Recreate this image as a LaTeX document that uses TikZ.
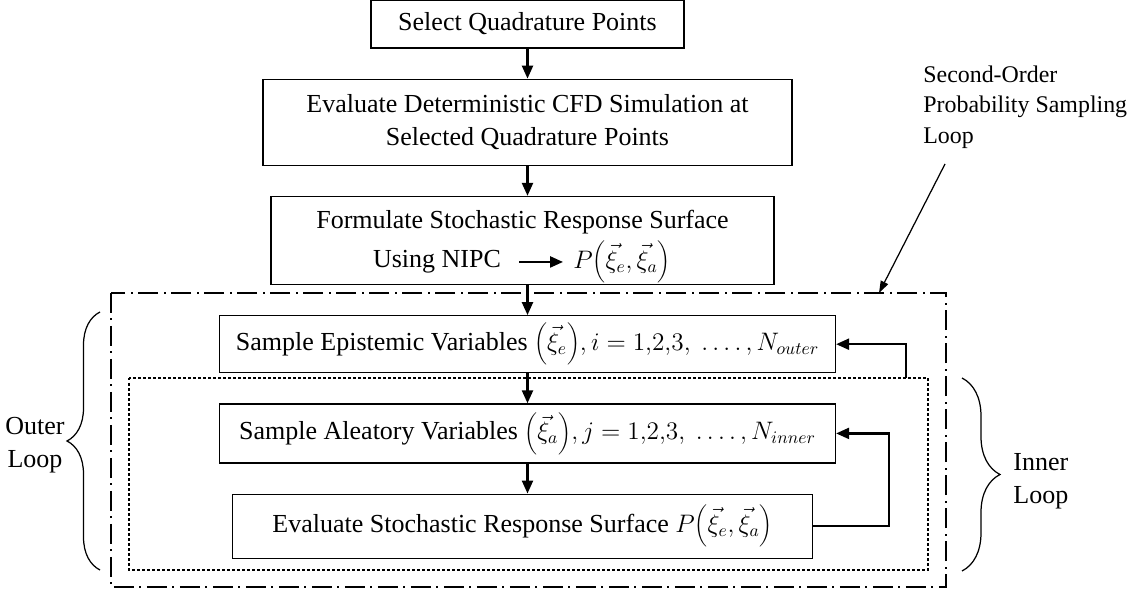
\documentclass[tikz,border=0pt]{standalone}
\usepackage{fontspec}
\setmainfont{Liberation Serif}
\usetikzlibrary{positioning,arrows.meta,decorations.pathreplacing}

\begin{document}
\begin{tikzpicture}[
            node distance=0.6cm,
            font=\fontsize{14.8}{18.8}\selectfont,
            box/.style={draw, line width=0.7pt, align=center, inner sep=2pt},
            arr/.style={line width=1.3pt, -{Triangle[length=0.26cm, width=0.22cm]}},
            ptr/.style={line width=0.7pt, -{Triangle[length=0.24cm, width=0.16cm]}},
            dashdot/.style={line width=1.1pt, dash pattern=on 0.4cm off 0.11cm on 0.04cm off 0.11cm},
            dotline/.style={line width=1.6pt, dash pattern=on 0.05cm off 0.05cm},
            brace/.style={line width=0.7pt, decorate, decoration={brace}}
        ]
            \useasboundingbox (0,0) rectangle (22.94,-11.84);

            \node[box, minimum width=6.26cm, minimum height=0.96cm] (box1) at (10.55,-0.48) {Select Quadrature Points};
            \node[box, minimum width=10.58cm, minimum height=1.72cm, below=of box1] (box2) {Evaluate Deterministic CFD Simulation at \\ Selected Quadrature Points};
            \node[box, minimum width=10.06cm, minimum height=1.76cm, below=of box2, xshift=-0.1cm] (box3) {};
            \node[inner sep=0pt] (form) at ([yshift=0.37cm]box3.center) {Formulate Stochastic Response Surface};
            \node[inner sep=0pt] (nipc) at ([xshift=-1.71cm, yshift=-0.43cm]box3.center) {Using NIPC};
            \node[inner sep=0pt] (pxi) at ([xshift=1.99cm, yshift=-0.43cm]box3.center) {$P{\left(\vec{\xi}_e,\vec{\xi}_a\right)}$};
            \node[box, minimum width=12.32cm, minimum height=1.14cm, below=of box3, xshift=0.1cm] (box4) {Sample Epistemic Variables ${\left(\vec{\xi}_e\right)}, i = 1{,}2{,}3,\ \ldots.\,, N_{outer}$};
            \node[box, minimum width=12.32cm, minimum height=1.18cm, below=of box4] (box5) {Sample Aleatory Variables ${\left(\vec{\xi}_a\right)}, j = 1{,}2{,}3,\ \ldots.\,, N_{inner}$};
            \node[box, minimum width=11.6cm, minimum height=1.28cm, below=of box5, xshift=-0.1cm] (box6) {Evaluate Stochastic Response Surface $P{\left(\vec{\xi}_e,\vec{\xi}_a\right)}$};

            \draw[dashdot] (2.22,-5.86) rectangle (18.92,-11.74);
            \draw[dotline] (2.58,-7.56) rectangle (18.56,-11.40);

            \draw[arr] (box1) -- (box2);
            \draw[arr] (box2) -- (box2 |- box3.north);
            \draw[arr] (box4 |- box3.south) -- (box4);
            \draw[arr] (box4) -- (box5);
            \draw[arr] (box5) -- (box5 |- box6.north);
            \draw[arr] ([xshift=0.36cm]nipc.east) -- ([xshift=-0.2cm]pxi.west);

            \coordinate (outerfb) at (18.12,-7.56);
            \draw[arr] (outerfb) |- (box4.east);
            \draw[arr] (box6.east) -- ++(1.52,0) |- (box5.east);

            \node[inner sep=0pt, anchor=west, align=left, font=\fontsize{13.6}{17.4}\selectfont] (sop) at (18.46,-2.14) {Second-Order \\ Probability Sampling \\ Loop};
            \coordinate (ptrA) at (18.9,-3.28);
            \coordinate (ptrB) at (17.58,-5.86);
            \draw[ptr] (ptrA) -- (ptrB);

            \draw[brace, decoration={amplitude=0.66cm}] (2.0,-11.40) -- (2.0,-6.24);
            \node[inner sep=0pt, anchor=east, align=center] (outerlbl) at (1.3,-8.9) {Outer \\ Loop};
            \draw[brace, decoration={amplitude=0.76cm}] (19.24,-7.56) -- (19.24,-11.42);
            \node[inner sep=0pt, anchor=west, align=left] (innerlbl) at (20.26,-9.62) {Inner \\ Loop};

        \end{tikzpicture}
\end{document}
